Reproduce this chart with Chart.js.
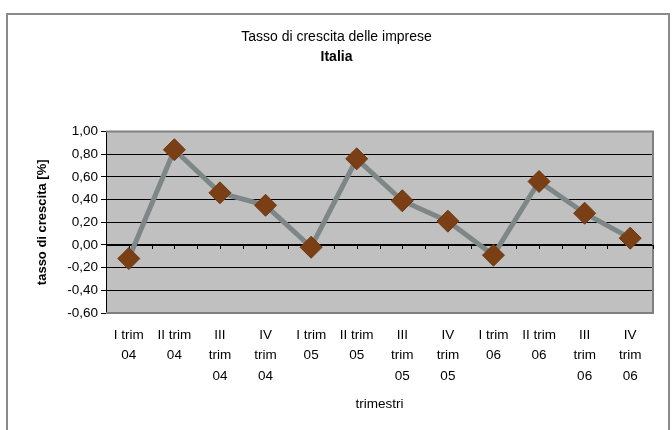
<!DOCTYPE html>
<html>
<head>
<meta charset="utf-8">
<script src="https://cdn.jsdelivr.net/npm/chart.js@4"></script>
<style>
  html, body { margin: 0; padding: 0; background: #fff; }
  #wrap { width: 672px; height: 430px; position: relative; }
</style>
</head>
<body>
<div id="wrap"><canvas id="chart"></canvas></div>
<script>
// Data
const quarters = [
    ['I trim', '04'], ['II trim', '04'], ['III', 'trim', '04'], ['IV', 'trim', '04'],
    ['I trim', '05'], ['II trim', '05'], ['III', 'trim', '05'], ['IV', 'trim', '05'],
    ['I trim', '06'], ['II trim', '06'], ['III', 'trim', '06'], ['IV', 'trim', '06']
];
const growthRates = [-0.12, 0.84, 0.46, 0.35, -0.02, 0.76, 0.39, 0.21, -0.09, 0.56, 0.28, 0.06];
const yMin = -0.6;
const yMax = 1.0;
const yStep = 0.2;

const FONT = 'Arial, "Liberation Sans", sans-serif';

// Draws the outer frame, grey plot background, zero axis line and its tick marks
const excelFrame = {
    id: 'excelFrame',
    beforeDraw(chart) {
        const ctx = chart.ctx;
        const a = chart.chartArea;
        ctx.save();
        ctx.strokeStyle = '#8a8a8a';
        ctx.lineWidth = 2;
        ctx.strokeRect(7, 14, 662, 430);
        ctx.fillStyle = '#c0c0c0';
        ctx.fillRect(a.left, a.top, a.right - a.left, a.bottom - a.top);
        ctx.restore();
    },
    beforeDatasetsDraw(chart) {
        const ctx = chart.ctx;
        const a = chart.chartArea;
        const y0 = chart.scales.y.getPixelForValue(0);
        const n = chart.data.labels.length;
        const step = (a.right - a.left) / n / 2;
        ctx.save();
        // grey border top / right / bottom
        ctx.strokeStyle = '#808080';
        ctx.lineWidth = 2;
        ctx.beginPath();
        ctx.moveTo(a.left, a.top);
        ctx.lineTo(a.right, a.top);
        ctx.lineTo(a.right, a.bottom);
        ctx.lineTo(a.left, a.bottom);
        ctx.stroke();
        // category axis crossing at zero
        ctx.strokeStyle = '#000';
        ctx.lineWidth = 1;
        ctx.beginPath();
        ctx.moveTo(a.left, Math.round(y0) + 0.5);
        ctx.lineTo(a.right, Math.round(y0) + 0.5);
        for (let i = 1; i <= n * 2; i++) {
            const x = Math.round(a.left + i * step) + 0.5;
            ctx.moveTo(x, Math.round(y0));
            ctx.lineTo(x, Math.round(y0) + 4);
        }
        ctx.stroke();
        ctx.restore();
    }
};

const ctx = document.getElementById('chart').getContext('2d');
new Chart(ctx, {
    type: 'line',
    data: {
        labels: quarters,
        datasets: [{
            data: growthRates,
            borderColor: '#7e8788',
            borderWidth: 5,
            pointStyle: 'rectRot',
            pointRadius: 11,
            pointHoverRadius: 11,
            pointBackgroundColor: '#7b3f16',
            pointBorderColor: '#6e3812',
            pointBorderWidth: 1,
            tension: 0
        }]
    },
    options: {
        responsive: true,
        maintainAspectRatio: false,
        animation: false,
        events: [],
        layout: { padding: { left: 20, right: 19, top: 0, bottom: 0 } },
        plugins: {
            legend: { display: false },
            tooltip: { enabled: false },
            title: {
                display: true,
                text: 'Tasso di crescita delle imprese',
                color: '#000',
                font: { family: FONT, size: 14, weight: 'normal' },
                padding: { top: 29, bottom: 3 }
            },
            subtitle: {
                display: true,
                text: 'Italia',
                color: '#000',
                font: { family: FONT, size: 14, weight: 'bold' },
                padding: { top: 0, bottom: 66 }
            }
        },
        scales: {
            x: {
                offset: true,
                grid: { display: false },
                border: { display: false },
                ticks: {
                    color: '#000',
                    font: { family: FONT, size: 13.5, lineHeight: 1.52 },
                    padding: 4,
                    maxRotation: 0,
                    autoSkip: false
                },
                title: {
                    display: true,
                    text: 'trimestri',
                    color: '#000',
                    font: { family: FONT, size: 13.5 },
                    padding: { top: 2, bottom: 18 }
                },
                afterFit(scale) { scale.height = 117; }
            },
            y: {
                min: yMin,
                max: yMax,
                grid: { color: '#000', lineWidth: 1, tickLength: 5, tickColor: '#000' },
                border: { color: '#000', width: 1 },
                ticks: {
                    stepSize: yStep,
                    color: '#000',
                    font: { family: FONT, size: 13.5 },
                    padding: 3,
                    callback: v => (Math.round(v * 100) / 100).toFixed(2).replace('.', ',')
                },
                title: {
                    display: true,
                    text: 'tasso di crescita [%]',
                    color: '#000',
                    font: { family: FONT, size: 13, weight: 'bold' },
                    padding: { top: 15, bottom: 0 }
                },
                afterFit(scale) { scale.width = 86; }
            }
        }
    },
    plugins: [excelFrame]
});
</script>
</body>
</html>
